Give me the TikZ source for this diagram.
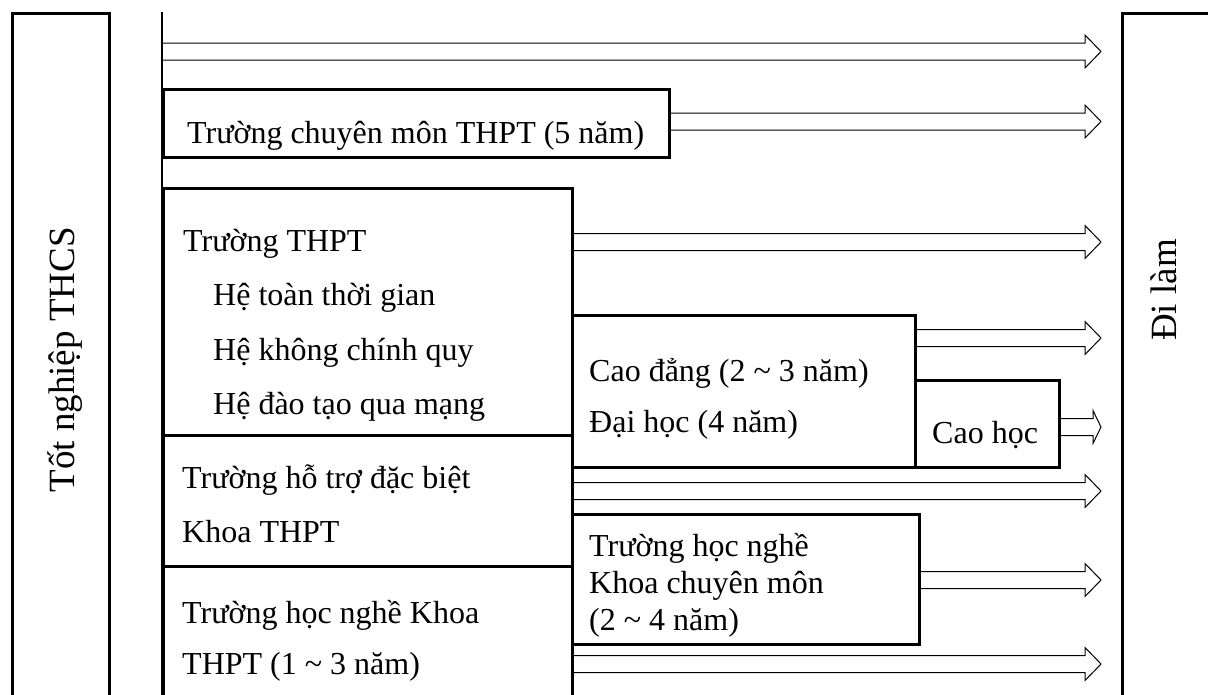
\documentclass[tikz,border=0pt]{standalone}
\usepackage{fontspec}
\setmainfont{Liberation Serif}
\usetikzlibrary{calc}
\newcommand{\DArrow}[3]{%
  \draw[arrowline] let \p1=(#1), \p2=(#2) in
    (\x1,\y1+8.5pt) -- (\x2-#3,\y1+8.5pt) -- (\x2-#3,\y1+16.5pt) -- (\x2,\y1)
    -- (\x2-#3,\y1-16.5pt) -- (\x2-#3,\y1-8.5pt) -- (\x1,\y1-8.5pt);
}
\begin{document}
\begin{tikzpicture}[x=1pt,y=-1pt,
  box/.style={draw, line width=2.6pt, rectangle, inner sep=0pt, anchor=north west},
  bar/.style={draw, line width=3pt, rectangle, inner sep=0pt, anchor=north west},
  arrowline/.style={line width=1pt, line join=miter},
  lbl/.style={inner sep=0pt, anchor=base west, font=\fontsize{32}{32}\selectfont},
  vlbl/.style={inner sep=0pt, anchor=base, rotate=90, font=\fontsize{37}{37}\selectfont}]

\useasboundingbox (0,0) rectangle (1208,694);
\clip (0,0) rectangle (1208,694);

% side bars
\node[bar, minimum width=97pt, minimum height=700pt] (start) at (11,12) {};
\node[bar, minimum width=100pt, minimum height=700pt] (finish) at (1121,12) {};
\node[vlbl] (startlbl) at (74,360) {Tốt nghiệp THCS};
\node[vlbl] (finishlbl) at (1176,290) {Đi làm};

% vertical line
\coordinate (vtop) at (162,12);
\coordinate (vbot) at (162,700);
\draw[line width=1.6pt] (vtop) -- (vbot);

% boxes
\node[box, minimum width=506pt, minimum height=68pt] (cm) at (162,88) {};
\node[box, minimum width=409pt, minimum height=247pt] (thpt) at (162,187) {};
\node[box, minimum width=409pt, minimum height=131pt] (ht) at (162,434) {};
\node[box, minimum width=409pt, minimum height=150pt] (hnt) at (162,565) {};
\node[box, minimum width=343pt, minimum height=152pt] (cd) at (571,314) {};
\node[box, minimum width=144pt, minimum height=87pt] (ch) at (914,379) {};
\node[box, minimum width=347pt, minimum height=130pt] (hncm) at (571,513) {};

% texts
\node[lbl] (t1) at (187,143) {Trường chuyên môn THPT (5 năm)};
\node[lbl] (t2) at (183,251) {Trường THPT};
\node[lbl] (t3) at (213,305) {Hệ toàn thời gian};
\node[lbl] (t4) at (213,360) {Hệ không chính quy};
\node[lbl] (t5) at (213,414) {Hệ đào tạo qua mạng};
\node[lbl] (t6) at (589,381) {Cao đẳng (2 \textasciitilde{} 3 năm)};
\node[lbl] (t7) at (589,432) {Đại học (4 năm)};
\node[lbl] (t8) at (932,443) {Cao học};
\node[lbl] (t9) at (182,488) {Trường hỗ trợ đặc biệt};
\node[lbl] (t10) at (182,542) {Khoa THPT};
\node[lbl] (t11) at (182,623) {Trường học nghề Khoa};
\node[lbl] (t12) at (182,674) {THPT (1 \textasciitilde{} 3 năm)};
\node[lbl] (t13) at (589,556) {Trường học nghề};
\node[lbl] (t14) at (589,593) {Khoa chuyên môn};
\node[lbl] (t15) at (589,630) {(2 \textasciitilde{} 4 năm)};

% arrow tips
\coordinate (e1) at (1101,51.5);
\coordinate (e2) at (1101,121.5);
\coordinate (e3) at (1101,242);
\coordinate (e4) at (1101,338);
\coordinate (e5) at (1101,427);
\coordinate (e6) at (1101,491);
\coordinate (e7) at (1101,580);
\coordinate (e8) at (1101,664);

\DArrow{vtop |- e1}{e1}{16pt}
\DArrow{cm.east |- e2}{e2}{16pt}
\DArrow{thpt.east |- e3}{e3}{16pt}
\DArrow{cd.east |- e4}{e4}{16pt}
\DArrow{ch.east |- e5}{e5}{8pt}
\DArrow{ht.east |- e6}{e6}{16pt}
\DArrow{hncm.east |- e7}{e7}{16pt}
\DArrow{hnt.east |- e8}{e8}{16pt}
\end{tikzpicture}
\end{document}
